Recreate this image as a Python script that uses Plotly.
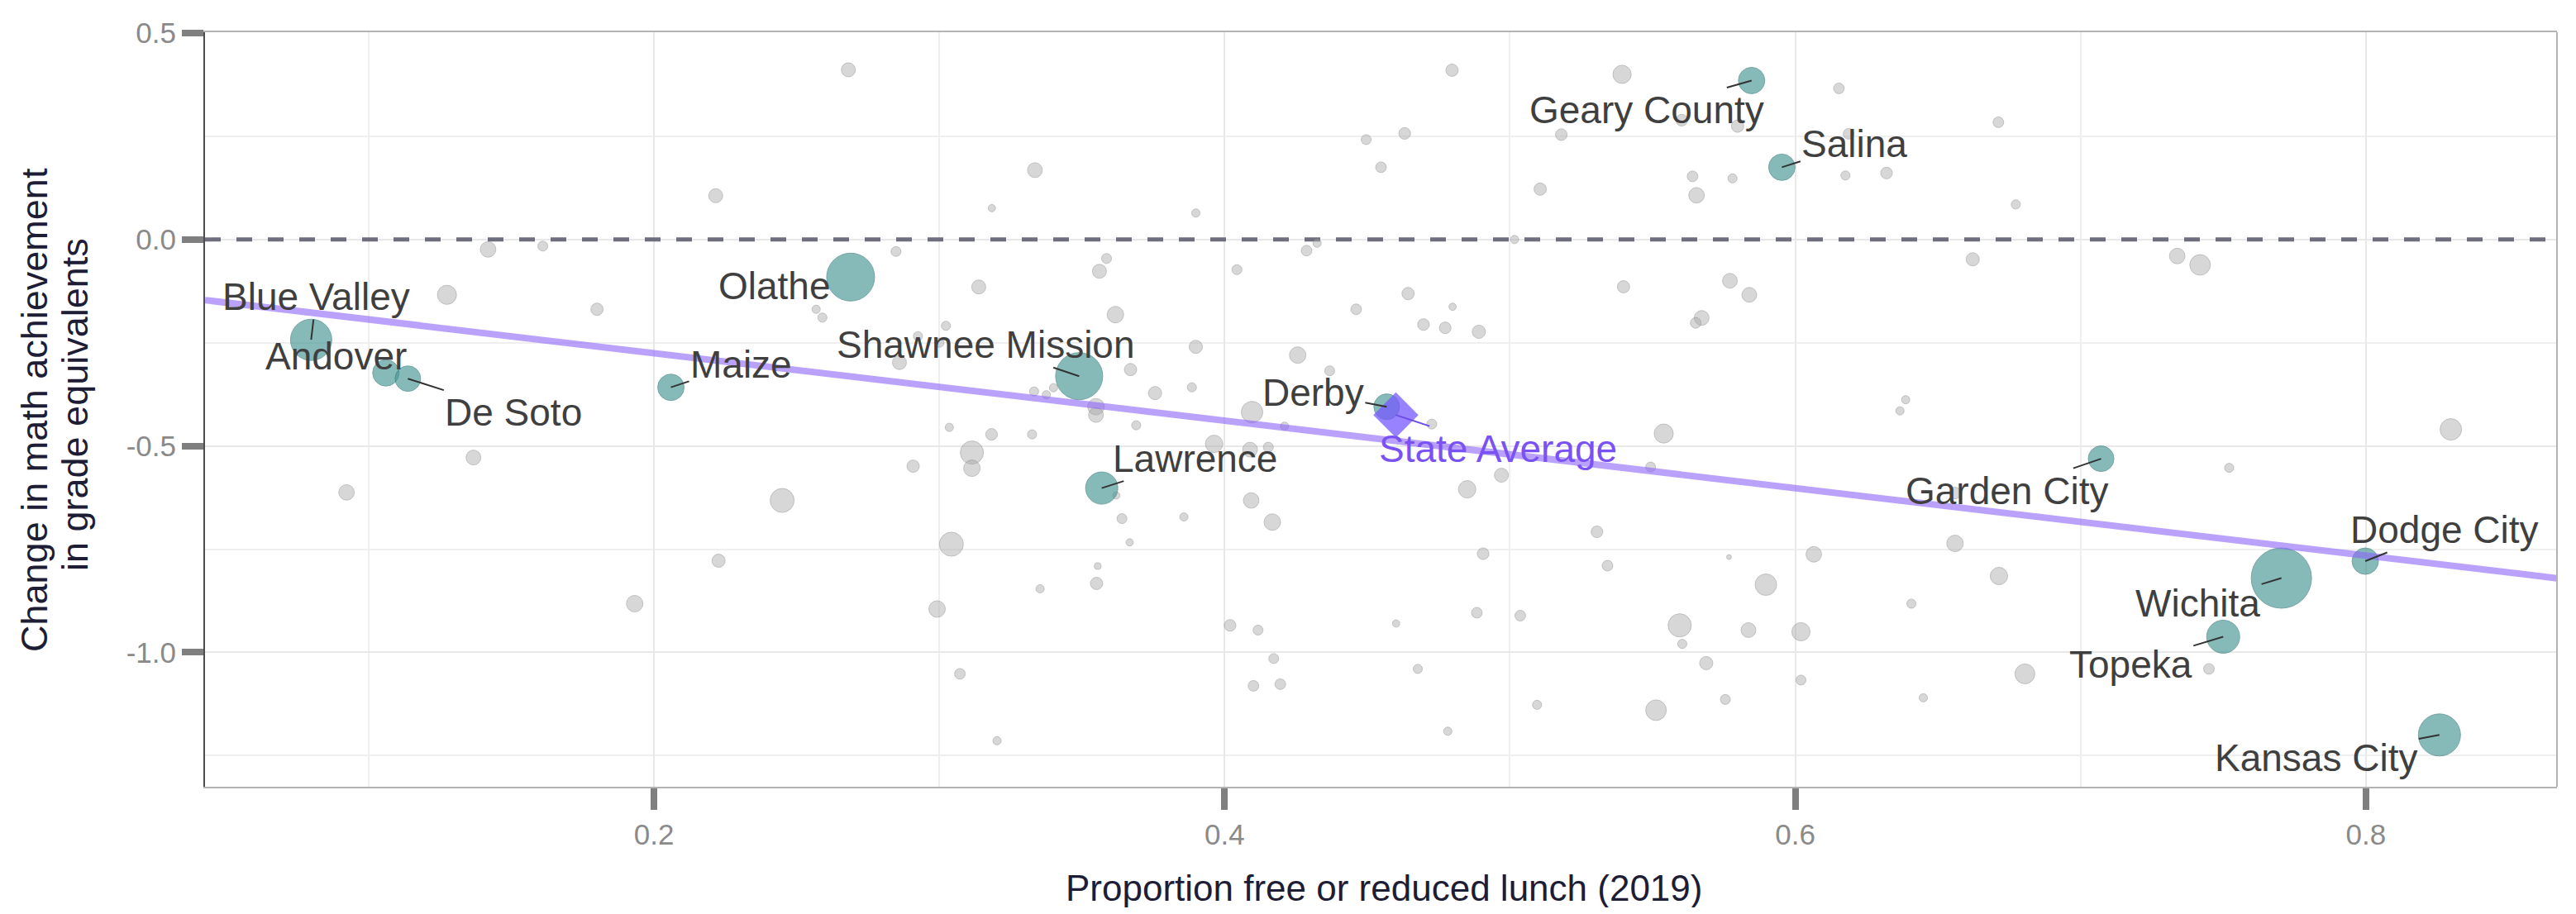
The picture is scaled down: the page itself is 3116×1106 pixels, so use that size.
import numpy as np
import plotly.graph_objects as go

# ---------------- data ----------------
# other Kansas districts (grey): proportion FRL 2019, change in grade equivalents, enrollment (thousands)
other_frl = [0.1418, 0.161, 0.1274, 0.180, 0.2681, 0.2216, 0.3335, 0.3184, 0.3899, 0.2848,
             0.3586, 0.3561, 0.4043, 0.3138, 0.3617, 0.2568, 0.259, 0.3023, 0.2925, 0.300,
             0.3899, 0.4256, 0.286, 0.367, 0.3332, 0.3375, 0.340, 0.3756, 0.3885, 0.3549,
             0.3549, 0.4096, 0.421, 0.4797, 0.5393, 0.6153, 0.4496, 0.4631, 0.4548, 0.518,
             0.5602, 0.5798, 0.6187, 0.5106, 0.564, 0.578, 0.5654, 0.6176, 0.632, 0.4287,
             0.4324, 0.5016, 0.5398, 0.5771, 0.5839, 0.5672, 0.5651, 0.4643, 0.4461, 0.4799,
             0.4697, 0.4773, 0.4891, 0.4368, 0.6387, 0.6367, 0.6712, 0.6773, 0.6622, 0.7339,
             0.7419, 0.1367, 0.0922, 0.1932, 0.3035, 0.3183, 0.3325, 0.369, 0.3114, 0.3114,
             0.2908, 0.2449, 0.3963, 0.4089, 0.4153, 0.4093, 0.4167, 0.364, 0.3857, 0.3667,
             0.362, 0.3042, 0.2226, 0.3555, 0.3551, 0.3353, 0.2992, 0.4019, 0.4117, 0.4172,
             0.3072, 0.4101, 0.4195, 0.3202, 0.4726, 0.5539, 0.5493, 0.497, 0.485, 0.5305,
             0.4906, 0.5342, 0.5768, 0.6065, 0.5897, 0.6407, 0.4601, 0.4884, 0.5036, 0.5595,
             0.5836, 0.602, 0.5604, 0.5688, 0.4677, 0.602, 0.5755, 0.5095, 0.5512, 0.6449,
             0.4782, 0.8298, 0.656, 0.7521, 0.656, 0.6714, 0.6805, 0.745]
other_change = [-0.024, -0.016, -0.134, -0.169, 0.411, 0.106, 0.168, 0.076, 0.064, -0.029,
                -0.046, -0.077, -0.073, -0.115, -0.182, -0.169, -0.189, -0.209, -0.234, -0.250,
                -0.260, -0.280, -0.298, -0.315, -0.368, -0.376, -0.359, -0.372, -0.358, -0.405,
                -0.425, -0.418, -0.452, 0.410, 0.400, 0.366, 0.242, 0.257, 0.175, 0.254,
                0.289, 0.2745, 0.256, 0.122, 0.153, 0.148, 0.107, 0.155, 0.161, -0.027,
                -0.009, 0.0, -0.1145, -0.100, -0.134, -0.190, -0.202, -0.131, -0.169, -0.163,
                -0.206, -0.214, -0.2235, -0.318, -0.388, -0.415, 0.284, 0.085, -0.048, -0.040,
                -0.0615, -0.528, -0.6125, -0.882, -0.455, -0.472, -0.472, -0.450, -0.516, -0.554,
                -0.549, -0.632, -0.495, -0.509, -0.503, -0.632, -0.6845, -0.676, -0.672, -0.7335,
                -0.620, -0.738, -0.778, -0.791, -0.833, -0.846, -0.895, -0.9345, -0.946, -1.015,
                -1.052, -1.081, -1.077, -1.214, -0.447, -0.470, -0.551, -0.571, -0.605, -0.708,
                -0.761, -0.790, -0.769, -0.7625, -0.836, -0.882, -0.930, -0.904, -0.911, -0.9345,
                -0.946, -0.950, -0.9795, -1.026, -1.040, -1.067, -1.114, -1.127, -1.140, -1.110,
                -1.191, -0.460, -0.614, -0.553, -0.736, -0.815, -1.052, -1.040]
other_enroll = [3.2, 1.3, 4.8, 2.0, 2.6, 2.6, 2.9, 0.7, 0.9, 1.3,
                1.3, 2.6, 1.3, 2.6, 3.6, 0.9, 1.1, 1.1, 1.1, 1.1,
                2.3, 3.6, 2.6, 2.0, 1.1, 0.9, 0.9, 2.3, 1.1, 3.6,
                2.9, 6.1, 0.9, 2.0, 4.4, 1.5, 1.3, 1.8, 1.5, 1.8,
                1.8, 2.0, 1.5, 2.0, 1.5, 1.1, 3.2, 1.1, 1.8, 1.5,
                0.9, 0.9, 2.0, 2.9, 2.9, 2.9, 1.5, 2.0, 1.5, 0.7,
                1.8, 1.8, 2.3, 1.3, 0.9, 0.9, 1.5, 1.1, 2.3, 3.2,
                5.6, 2.9, 3.2, 3.6, 0.9, 1.8, 1.1, 1.1, 7.1, 3.6,
                2.0, 7.6, 4.0, 2.9, 1.3, 3.2, 3.6, 1.3, 0.9, 0.7,
                0.7, 7.6, 2.3, 0.6, 2.0, 0.9, 3.6, 1.8, 1.3, 1.3,
                1.5, 1.5, 1.5, 0.9, 1.3, 4.8, 1.3, 2.6, 4.0, 1.8,
                1.8, 1.5, 0.3, 3.2, 6.1, 1.1, 0.7, 1.5, 1.5, 7.1,
                2.9, 4.4, 1.1, 2.3, 1.1, 1.3, 1.3, 1.1, 5.6, 0.9,
                0.9, 6.1, 1.8, 1.1, 3.6, 4.0, 5.2, 1.5]

# highlighted districts (teal)
hl_names = ["Blue Valley", "Andover", "De Soto", "Maize", "Olathe", "Shawnee Mission",
            "Lawrence", "Derby", "Geary County", "Salina", "Garden City", "Dodge City",
            "Wichita", "Topeka", "Kansas City"]
hl_frl = [0.0798, 0.106, 0.1137, 0.2059, 0.2689, 0.349, 0.3569, 0.4568, 0.5847, 0.5953,
          0.7072, 0.7998, 0.7704, 0.750, 0.8258]
hl_change = [-0.243, -0.323, -0.337, -0.358, -0.091, -0.331, -0.602, -0.405, 0.385, 0.175,
             -0.531, -0.779, -0.820, -0.962, -1.200]
hl_enroll = [22.5, 9.2, 8.6, 9.2, 30.3, 29.3, 13.7, 8.7, 9.2, 9.2, 8.7, 9.2, 48.0, 14.4, 23.4]

state_avg_label = "State Average"
state_avg_frl = 0.460
state_avg_change = -0.425

# fitted line
fit_intercept = -0.112
fit_slope = -0.817

x_ticks = [0.2, 0.4, 0.6, 0.8]
x_tick_labels = ["0.2", "0.4", "0.6", "0.8"]
y_ticks = [-1.0, -0.5, 0.0, 0.5]
y_tick_labels = ["-1.0", "-0.5", "0.0", "0.5"]

x_title = "Proportion free or reduced lunch (2019)"
y_title_lines = ["Change in math achievement", "in grade equivalents"]

# ---------------- layout / styling ----------------
FONT = "Liberation Sans, Arial, sans-serif"
X_RANGE = [0.0426, 0.867]
Y_RANGE = [-1.3254, 0.502]
MAX_D = 73.0
all_max = max(max(other_enroll), max(hl_enroll))

def diam(vals):
    return list(MAX_D * np.sqrt(np.array(vals) / all_max))

# label offsets in pixels (text centre relative to point), and whether a segment is drawn
label_offsets = {
    "Blue Valley": (6, -52, True),
    "Andover": (-60, -20, False),
    "De Soto": (128, 41, True),
    "Maize": (85, -28, True),
    "Olathe": (-92, 11, False),
    "Shawnee Mission": (-113, -38, True),
    "Lawrence": (113, -36, True),
    "Derby": (-89, -17, True),
    "Geary County": (-127, 36, True),
    "Salina": (88, -28, True),
    "Garden City": (-114, 39, True),
    "Dodge City": (96, -38, True),
    "Wichita": (-101, 31, True),
    "Topeka": (-112, 34, True),
    "Kansas City": (-149, 28, True),
}

fig = go.Figure()

# zero reference line
fig.add_trace(go.Scatter(x=X_RANGE, y=[0, 0], mode="lines",
                         line=dict(color="#6E6E7E", width=5, dash="19px,19px"),
                         hoverinfo="skip", showlegend=False))

# grey districts
fig.add_trace(go.Scatter(x=other_frl, y=other_change, mode="markers",
                         marker=dict(size=diam(other_enroll), color="rgba(169,169,169,0.65)",
                                     line=dict(color="rgba(140,140,140,0.7)", width=1)),
                         showlegend=False))

# highlighted districts
fig.add_trace(go.Scatter(x=hl_frl, y=hl_change, mode="markers",
                         marker=dict(size=diam(hl_enroll), color="rgba(70,150,148,0.93)",
                                     line=dict(color="rgba(50,120,118,0.9)", width=1)),
                         showlegend=False))

# state average
fig.add_trace(go.Scatter(x=[state_avg_frl], y=[state_avg_change], mode="markers",
                         marker=dict(symbol="diamond", size=42, color="rgba(118,88,255,0.75)",
                                     line=dict(width=0)),
                         showlegend=False))

# fitted line
fx = np.array(X_RANGE)
fig.add_trace(go.Scatter(x=list(fx), y=list(fit_intercept + fit_slope * fx), mode="lines",
                         line=dict(color="rgba(140,100,250,0.6)", width=8),
                         hoverinfo="skip", showlegend=False))

annotations = []
for name, xv, yv in zip(hl_names, hl_frl, hl_change):
    dx, dy, seg = label_offsets[name]
    annotations.append(dict(x=xv, y=yv, xref="x", yref="y", text=name, showarrow=True,
                            ax=dx, ay=dy, arrowhead=0, arrowwidth=2, standoff=0,
                            arrowcolor="#333333" if seg else "rgba(0,0,0,0)",
                            font=dict(family=FONT, size=46, color="#3F3F3F"),
                            xanchor="center", yanchor="middle"))
annotations.append(dict(x=state_avg_frl, y=state_avg_change, xref="x", yref="y",
                        text=state_avg_label, showarrow=True, ax=124, ay=41, arrowhead=0,
                        arrowwidth=2, standoff=0, arrowcolor="#6B4DE6",
                        font=dict(family=FONT, size=46, color="#7A52F4"),
                        xanchor="center", yanchor="middle"))

# axis titles
annotations.append(dict(x=0, y=0.4995, xref="paper", yref="paper", xshift=-206,
                        text=y_title_lines[0], textangle=-90, showarrow=False,
                        font=dict(family=FONT, size=45, color="#1D1D35"),
                        xanchor="center", yanchor="middle"))
annotations.append(dict(x=0, y=0.506, xref="paper", yref="paper", xshift=-158,
                        text=y_title_lines[1], textangle=-90, showarrow=False,
                        font=dict(family=FONT, size=45, color="#1D1D35"),
                        xanchor="center", yanchor="middle"))
annotations.append(dict(x=0.5014, y=0, xref="paper", yref="paper", yshift=-122,
                        text=x_title, showarrow=False,
                        font=dict(family=FONT, size=44, color="#1D1D35"),
                        xanchor="center", yanchor="middle"))

# page body has an 8px margin: size the figure so the plot panel lands where the reference has it
fig.update_layout(
    width=3100, height=1090,
    margin=dict(l=240, r=15, t=23, b=146),
    paper_bgcolor="white", plot_bgcolor="white",
    showlegend=False,
    annotations=annotations,
    shapes=[dict(type="line", xref="paper", yref="paper", x0=1, x1=1, y0=0, y1=1,
                 line=dict(color="#B3B3B3", width=2))],
    xaxis=dict(range=X_RANGE, tickvals=x_ticks, ticktext=x_tick_labels,
               ticks="outside", ticklen=26, tickwidth=8, tickcolor="#7F7F7F",
               tickfont=dict(family=FONT, size=35, color="#8A8A8A"),
               showgrid=True, gridcolor="#E8E8E8", gridwidth=2,
               minor=dict(tickvals=[0.1, 0.3, 0.5, 0.7], showgrid=True,
                          gridcolor="#EFEFEF", gridwidth=2, ticks=""),
               showline=True, linecolor="#B3B3B3", linewidth=2, mirror=True,
               zeroline=False),
    yaxis=dict(range=Y_RANGE, tickvals=y_ticks, ticktext=y_tick_labels,
               ticks="outside", ticklen=26, tickwidth=8, tickcolor="#7F7F7F",
               tickfont=dict(family=FONT, size=35, color="#8A8A8A"),
               showgrid=True, gridcolor="#E8E8E8", gridwidth=2,
               minor=dict(tickvals=[-1.25, -0.75, -0.25, 0.25], showgrid=True,
                          gridcolor="#EFEFEF", gridwidth=2, ticks=""),
               showline=True, linecolor="#4D4D4D", linewidth=2,
               zeroline=False),
)

fig.write_html("out.html")
